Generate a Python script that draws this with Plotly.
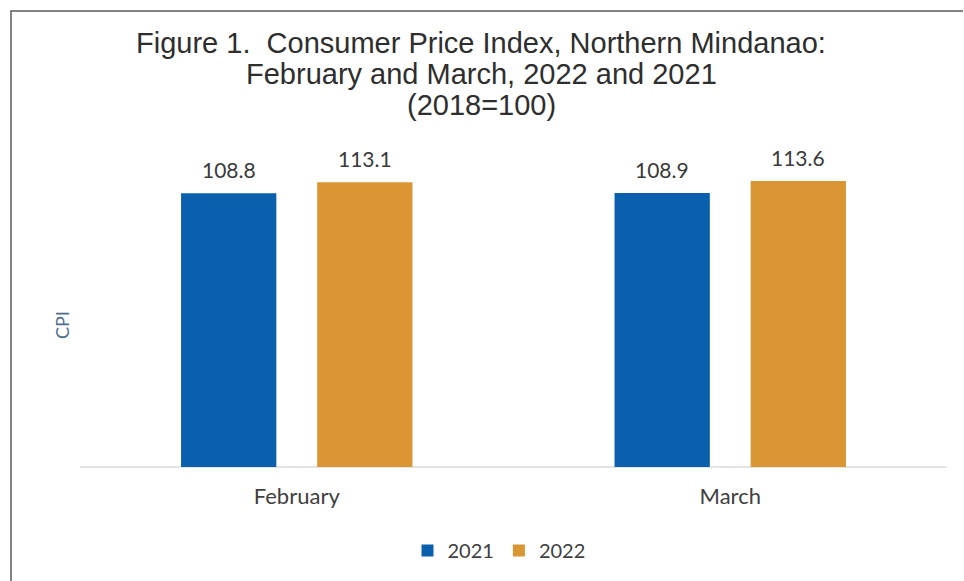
import plotly.graph_objects as go

# Consumer Price Index, Northern Mindanao (2018=100)
months = ["February", "March"]
years = ["2021", "2022"]
cpi_2021 = [108.8, 108.9]
cpi_2022 = [113.1, 113.6]
title_lines = [
    "Figure 1.  Consumer Price Index, Northern Mindanao:",
    "February and March, 2022 and 2021",
    "(2018=100)",
]

colors = {"2021": "#0b60ad", "2022": "#da9632"}

W, H = 964, 581
M_L, M_R, M_T, M_B = 80, 17, 165, 114
PW, PH = W - M_L - M_R, H - M_T - M_B


def px_x(x):
    """Pixel column -> paper x."""
    return (x - M_L) / PW


def px_y(y):
    """Pixel row (from top) -> paper y."""
    return (H - M_B - y) / PH


fig = go.Figure()
offsets = [-68, 68]  # half a bar slot either side of the category centre
for year, vals, dx in zip(years, [cpi_2021, cpi_2022], offsets):
    fig.add_trace(go.Bar(
        name=year,
        x=months,
        y=vals,
        marker=dict(color=colors[year], line=dict(width=0)),
    ))
    # value labels sitting just above each bar
    for m, v in zip(months, vals):
        fig.add_annotation(
            x=m, y=v, xref="x", yref="y",
            text=f"{v:.1f}", showarrow=False,
            xshift=dx, yanchor="bottom", yshift=9,
            font=dict(family="Lato, Open Sans, sans-serif", size=21, color="#3a3a3a"),
        )

# three-line chart heading
for line, yc in zip(title_lines, [43, 74, 105]):
    fig.add_annotation(
        x=px_x(481), y=px_y(yc), xref="paper", yref="paper",
        text=line, showarrow=False, xanchor="center", yanchor="middle",
        font=dict(family="Liberation Sans, Arial, sans-serif", size=29, color="#2e2e2e"),
    )

# vertical axis caption
fig.add_annotation(
    x=px_x(62), y=px_y(325), xref="paper", yref="paper",
    text="CPI", showarrow=False, textangle=-90,
    xanchor="center", yanchor="middle",
    font=dict(family="Lato, Open Sans, sans-serif", size=18, color="#4f6e8c"),
)

# frame along the top and left edges, as one open path
frame_path = (
    f"M {px_x(11)} {px_y(H)} L {px_x(11)} {px_y(11)} L {px_x(W - 1)} {px_y(11)}"
)

fig.update_layout(
    width=W,
    height=H,
    margin=dict(l=M_L, r=M_R, t=M_T, b=M_B, autoexpand=False),
    paper_bgcolor="white",
    plot_bgcolor="white",
    barmode="group",
    bargap=0.372,
    bargroupgap=0.30,
    xaxis=dict(
        showline=False,
        showgrid=False,
        ticks="",
        ticklabelstandoff=14,
        tickfont=dict(family="Lato, Open Sans, sans-serif", size=22, color="#404040"),
        automargin=False,
    ),
    yaxis=dict(
        range=[0, 120],
        showticklabels=False,
        showgrid=False,
        zeroline=True,
        zerolinecolor="#e4e4e4",
        zerolinewidth=1.5,
        automargin=False,
    ),
    legend=dict(
        orientation="h",
        x=px_x(499),
        xanchor="center",
        y=px_y(531),
        yanchor="top",
        font=dict(family="Lato, Open Sans, sans-serif", size=20, color="#404040"),
        itemwidth=30,
    ),
    shapes=[
        dict(type="path", xref="paper", yref="paper", path=frame_path,
             line=dict(color="#5a5a5a", width=1.5)),
    ],
)

fig.write_html("out.html")
